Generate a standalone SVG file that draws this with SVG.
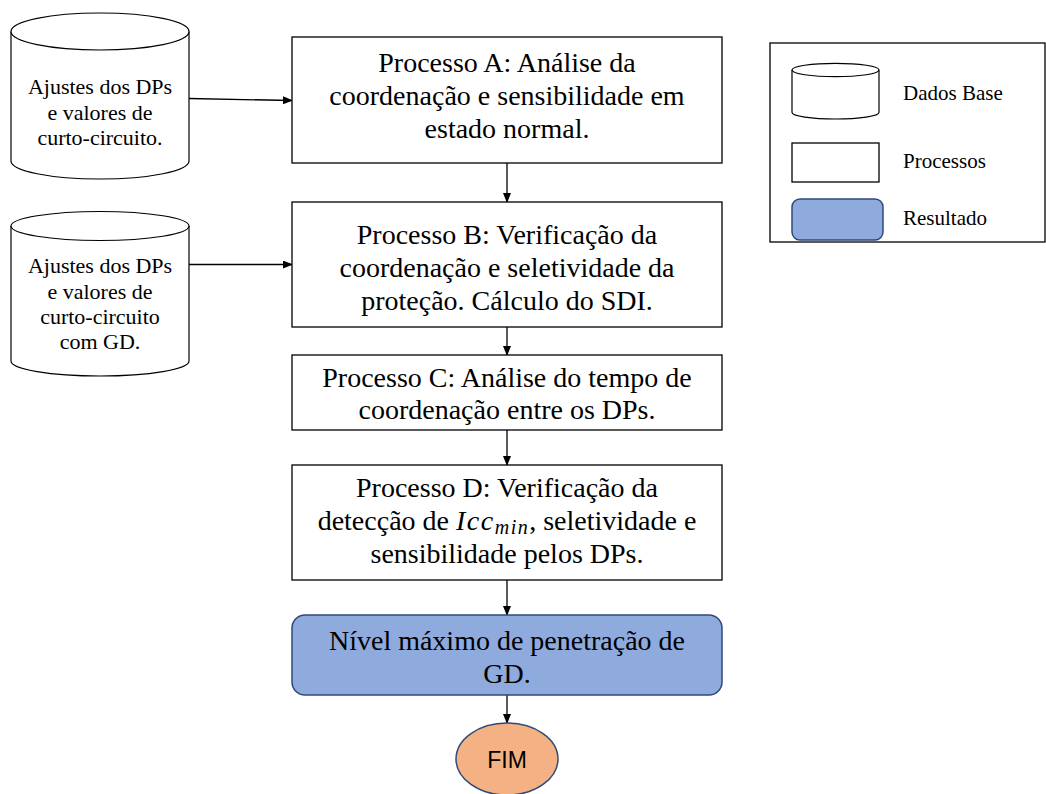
<svg xmlns="http://www.w3.org/2000/svg" width="1046" height="794" viewBox="0 0 1046 794">
<defs>
<style>
.box{fill:#fff;stroke:#000;stroke-width:1.3}
.cyl{fill:#fff;stroke:#000;stroke-width:1.2}
.res{fill:#8FAADC;stroke:#2F4A7A;stroke-width:1.5}
.fim{fill:#F4B183;stroke:#2F4A7A;stroke-width:1.5}
.t{font-family:"Liberation Serif","Times New Roman",serif;fill:#000;text-anchor:middle}
.big{font-size:28px}
.sm{font-size:22px}
.leg{font-size:21px;text-anchor:start}
.con{stroke:#000;stroke-width:1.3;fill:none;marker-end:url(#ah)}
</style>
<marker id="ah" markerWidth="10" markerHeight="8" refX="9" refY="4" orient="auto" markerUnits="userSpaceOnUse">
<path d="M0,0 L10,4 L0,8 Z" fill="#000"/>
</marker>
</defs>
<rect width="1046" height="794" fill="#fff"/>

<g id="connectors">
<line class="con" x1="189" y1="98.5" x2="292" y2="100.5"/>
<line class="con" x1="189" y1="264.5" x2="292" y2="264.5"/>
<line class="con" x1="507" y1="163" x2="507" y2="202"/>
<line class="con" x1="507" y1="327" x2="507" y2="355"/>
<line class="con" x1="507" y1="430" x2="507" y2="465"/>
<line class="con" x1="507" y1="580" x2="507" y2="615"/>
<line class="con" x1="507" y1="695" x2="507" y2="723"/>
</g>

<g id="db1">
<path class="cyl" d="M11,31.5 L11,161 A89,18 0 0 0 189,161 L189,31.5"/>
<ellipse class="cyl" cx="100" cy="31.5" rx="89" ry="18.5"/>
<text class="t sm" x="100" y="94">Ajustes dos DPs</text>
<text class="t sm" x="100" y="120">e valores de</text>
<text class="t sm" x="100" y="145">curto-circuito.</text>
</g>

<g id="db2">
<path class="cyl" d="M11,226 L11,361 A89,15 0 0 0 189,361 L189,226"/>
<ellipse class="cyl" cx="100" cy="226" rx="89" ry="14.5"/>
<text class="t sm" x="100" y="273">Ajustes dos DPs</text>
<text class="t sm" x="100" y="299">e valores de</text>
<text class="t sm" x="100" y="324">curto-circuito</text>
<text class="t sm" x="100" y="349">com GD.</text>
</g>

<g id="procA">
<rect class="box" x="292" y="37" width="430" height="126"/>
<text class="t big" x="507" y="72">Processo A: Análise da</text>
<text class="t big" x="507" y="105">coordenação e sensibilidade em</text>
<text class="t big" x="507" y="138">estado normal.</text>
</g>

<g id="procB">
<rect class="box" x="292" y="202" width="430" height="125"/>
<text class="t big" x="507" y="244">Processo B: Verificação da</text>
<text class="t big" x="507" y="277">coordenação e seletividade da</text>
<text class="t big" x="507" y="310">proteção. Cálculo do SDI.</text>
</g>

<g id="procC">
<rect class="box" x="292" y="355" width="430" height="75"/>
<text class="t big" x="507" y="387">Processo C: Análise do tempo de</text>
<text class="t big" x="507" y="419">coordenação entre os DPs.</text>
</g>

<g id="procD">
<rect class="box" x="292" y="465" width="430" height="115"/>
<text class="t big" x="507" y="497">Processo D: Verificação da</text>
<text class="t big" x="507" y="530">detecção de <tspan font-style="italic" letter-spacing="1.5">Icc</tspan><tspan font-style="italic" font-size="20" letter-spacing="1.5" dy="4">min</tspan><tspan dy="-4">, seletividade e</tspan></text>
<text class="t big" x="507" y="563">sensibilidade pelos DPs.</text>
</g>

<g id="result">
<rect class="res" x="292" y="615" width="430" height="80" rx="13" ry="13"/>
<text class="t big" x="507" y="650">Nível máximo de penetração de</text>
<text class="t big" x="507" y="683">GD.</text>
</g>

<g id="fim">
<ellipse class="fim" cx="507" cy="759" rx="51" ry="36"/>
<text x="507" y="768" font-family="Liberation Sans, Arial, sans-serif" font-size="23" text-anchor="middle" fill="#000">FIM</text>
</g>

<g id="legend">
<rect x="770" y="43" width="275" height="199" fill="#fff" stroke="#000" stroke-width="1.3"/>
<path class="cyl" d="M792,70 L792,112.5 A43.5,6.5 0 0 0 879,112.5 L879,70"/>
<ellipse class="cyl" cx="835.5" cy="70" rx="43.5" ry="6.7"/>
<text class="t leg" x="903" y="100">Dados Base</text>
<rect class="box" x="792" y="143" width="87" height="39"/>
<text class="t leg" x="903" y="168">Processos</text>
<rect class="res" x="792" y="199" width="91" height="41" rx="8" ry="8"/>
<text class="t leg" x="903" y="225">Resultado</text>
</g>
</svg>
